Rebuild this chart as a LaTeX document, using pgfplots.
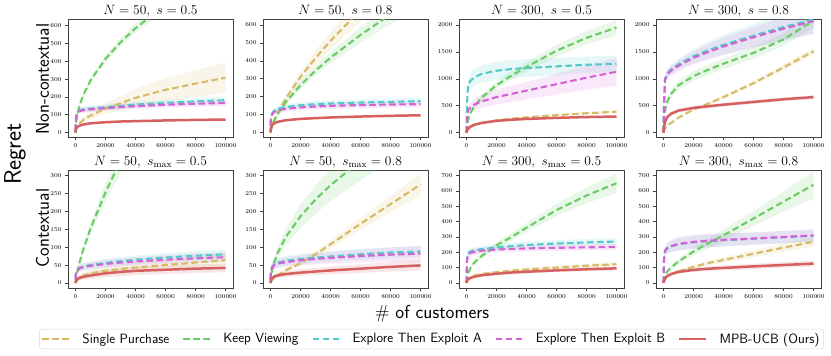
\RequirePackage{fix-cm}
\documentclass[border=0pt]{standalone}
\usepackage{pgfplots}
\pgfplotsset{compat=1.18}
\usepackage{pgfplotstable}
\usepgfplotslibrary{fillbetween}

\definecolor{cSP}{HTML}{D5BB67}
\definecolor{cKV}{HTML}{6ACC64}
\definecolor{cEA}{HTML}{52CACA}
\definecolor{cEB}{HTML}{D462D4}
\definecolor{cMP}{HTML}{D65F5F}

% columns: mean and half-width of the band for each method
\pgfplotstableread{
x      sp  spd kv  kvd ea  ead eb  ebd mp mpd
0      0   0   0   0   10  5   10  5   0  0
300    15  3   51  4   80  10  75  10  20 3
1000   30  6   93  6   110 12  105 12  30 4
2500   50  10  146 8   125 14  120 14  38 4
5000   70  14  207 10  130 15  125 15  45 5
10000  95  20  293 14  135 15  130 15  52 5
20000  135 30  414 18  142 15  137 15  58 5
30000  165 40  507 22  150 16  143 15  62 5
40000  195 50  586 25  157 16  148 16  64 5
60000  240 65  718 30  167 17  156 16  68 5
80000  275 75  829 35  175 18  162 17  71 5
100000 308 85  926 40  182 18  166 17  73 5
}\tabA
\pgfplotstableread{
x      sp  spd kv  kvd ea  ead eb  ebd mp mpd
0      0   0   0   0   40  8   40  8   0  0
300    15  2   17  2   80  10  75  10  25 3
1000   36  4   37  3   105 12  100 12  40 4
2500   69  7   67  5   122 14  115 14  52 4
5000   114 11  106 8   132 15  124 15  60 4
10000  188 18  167 13  142 16  132 16  68 4
20000  310 30  264 21  152 16  140 16  76 4
30000  415 40  345 28  158 17  145 16  80 4
40000  511 50  417 33  162 17  149 17  84 4
60000  683 65  544 44  167 18  153 17  89 4
80000  841 80  658 53  171 18  156 17  93 4
100000 988 95  762 61  175 18  158 17  96 4
}\tabB
\pgfplotstableread{
x      sp  spd kv   kvd ea   ead eb   ebd mp  mpd
0      0   0   0    0   0    0   0    0   0   0
300    30  5   120  15  500  60  300  40  40  5
1000   60  8   230  25  880  100 420  60  75  8
2500   100 10  360  35  960  130 460  80  110 10
5000   140 12  480  45  1020 150 520  100 145 12
10000  185 14  650  55  1090 160 580  120 180 14
20000  230 16  880  70  1150 170 660  140 220 15
30000  260 18  1060 80  1180 170 720  150 240 16
40000  285 20  1220 90  1200 165 780  160 255 17
60000  325 22  1520 110 1230 160 900  190 275 18
80000  360 24  1760 125 1260 155 1020 220 290 18
100000 390 26  1950 140 1277 150 1130 260 300 18
}\tabC
\pgfplotstableread{
x      sp   spd kv   kvd ea   ead eb   ebd mp  mpd
0      0    0   0    0   0    0   0    0   0   0
300    30   4   200  30  500  50  450  50  100 15
1000   80   6   400  50  1000 70  980  70  200 25
2500   130  8   580  60  1100 80  1080 80  290 30
5000   180  10  720  70  1170 90  1150 90  350 35
10000  280  14  880  80  1270 100 1240 100 410 35
20000  430  20  1050 90  1420 130 1390 120 460 35
30000  540  25  1170 95  1530 160 1500 140 490 35
40000  660  32  1280 100 1630 180 1600 160 520 35
60000  920  45  1480 110 1800 220 1770 190 570 35
80000  1210 55  1730 120 1960 250 1930 210 620 35
100000 1510 65  2080 130 2100 270 2070 230 660 35
}\tabD
\pgfplotstableread{
x      sp  spd kv  kvd ea  ead eb  ebd mp mpd
0      0   0   0   0   10  4   10  4   0  0
300    4   2   11  2   28  6   26  6   5  3
1000   8   4   28  4   36  8   34  8   10 5
2500   14  6   54  6   42  9   40  9   14 7
5000   20  8   91  9   46  10  44  10  17 8
10000  27  10  152 15  50  10  48  10  21 10
20000  34  12  253 25  56  11  53  11  27 11
30000  39  13  341 34  61  11  57  11  31 12
40000  43  14  425 42  65  12  60  12  34 12
60000  50  15  570 57  71  12  65  12  37 12
80000  57  16  720 72  76  13  69  13  40 12
100000 64  17  860 86  80  13  72  13  42 12
}\tabE
\pgfplotstableread{
x      sp  spd kv  kvd ea  ead eb  ebd mp mpd
0      0   0   0   0   10  5   10  5   0  0
300    4   1   18  4   35  8   33  8   8  3
1000   8   2   35  7   45  10  43  10  13 5
2500   15  3   59  11  52  11  50  11  18 6
5000   22  4   86  16  57  12  54  12  21 7
10000  35  5   127 23  62  13  58  13  25 8
20000  55  7   186 33  67  14  63  14  29 9
30000  80  9   233 40  71  14  67  15  32 10
40000  108 12  273 45  74  15  70  16  35 11
60000  165 17  341 55  80  15  75  18  40 12
80000  220 23  401 62  85  15  79  20  45 13
100000 275 30  454 70  88  15  82  22  49 14
}\tabF
\pgfplotstableread{
x      sp  spd kv  kvd ea  ead eb  ebd mp mpd
0      0   0   0   0   0   0   0   0   0  0
300    12  3   30  5   150 15  140 15  12 3
1000   25  5   60  8   195 18  185 18  22 5
2500   38  6   95  10  205 20  195 20  32 7
5000   48  8   130 12  212 20  202 20  40 8
10000  58  9   175 15  220 20  210 20  50 10
20000  70  10  245 20  232 22  218 20  60 11
30000  80  11  300 25  240 22  222 20  68 12
40000  88  12  360 30  247 22  225 20  73 12
60000  100 13  475 40  257 22  229 20  82 12
80000  112 14  570 50  264 22  232 20  89 12
100000 122 15  650 65  270 22  235 20  95 12
}\tabG
\pgfplotstableread{
x      sp  spd kv  kvd ea  ead eb  ebd mp  mpd
0      0   0   0   0   0   0   0   0   0   0
300    12  2   25  5   145 20  150 20  15  4
1000   25  4   50  8   205 25  210 30  30  6
2500   40  6   75  10  225 30  228 35  45  8
5000   55  8   100 12  238 35  240 40  58  10
10000  75  10  140 17  252 38  255 45  72  12
20000  105 13  205 25  265 40  268 45  85  14
30000  130 16  260 32  273 40  276 45  93  15
40000  150 18  310 38  278 40  281 42  98  16
60000  190 23  420 50  288 40  290 40  108 18
80000  230 28  530 65  298 40  300 40  117 18
100000 268 32  640 90  307 40  310 40  126 20
}\tabH

\pgfplotsset{
  dl/.style={dash pattern=on 6.5pt off 3.5pt, line width=2.1pt},
  sl/.style={solid, line width=2.5pt},
  panel/.style={
    scale only axis, width=165pt, height=117.5pt,
    anchor=south west,
    xmin=-5000, xmax=105000,
    xtick={0,20000,40000,60000,80000,100000},
    xticklabels={0,20000,40000,60000,80000,100000},
    scaled x ticks=false, scaled y ticks=false,
    yticklabel style={/pgf/number format/1000 sep={}},
    tick label style={font=\fontsize{6}{7}\selectfont},
    tick align=outside, tick pos=left, major tick length=3pt,
    axis line style={black!75, line width=0.7pt},
    every tick/.style={black!75, line width=0.5pt},
    title style={font=\fontsize{13.5}{15}\selectfont, at={(0.5,1)}, anchor=south, inner sep=0pt, yshift=-4pt},
    legend image code/.code={\draw[##1] (0pt,0pt) -- (27pt,0pt);},
  },
}

% band + mean line: table, panel id, column, colour, line style
\newcommand{\series}[5]{%
  \addplot[draw=none, forget plot, name path=#2#3lo] table[x=x, y expr=\thisrow{#3}-\thisrow{#3d}] {#1};
  \addplot[draw=none, forget plot, name path=#2#3hi] table[x=x, y expr=\thisrow{#3}+\thisrow{#3d}] {#1};
  \addplot[fill=#4, fill opacity=0.15, draw=none, forget plot] fill between[of=#2#3lo and #2#3hi];
  \addplot[#4, #5] table[x=x, y=#3] {#1};
}
\newcommand{\allseries}[2]{%
  \series{#1}{#2}{sp}{cSP}{dl}
  \series{#1}{#2}{kv}{cKV}{dl}
  \series{#1}{#2}{ea}{cEA}{dl}
  \series{#1}{#2}{eb}{cEB}{dl}
  \series{#1}{#2}{mp}{cMP}{sl}
}
\newcommand{\lf}{\sffamily\fontsize{13.5}{15}\selectfont}

\begin{document}
\begin{tikzpicture}

\begin{axis}[panel, at={(68pt,219pt)}, ymin=-25, ymax=635,
  ytick={0,100,...,600}, title={$N=50,\ s=0.5$}]
  \allseries{\tabA}{A}
\end{axis}
\begin{axis}[panel, at={(263pt,219pt)}, ymin=-25, ymax=630,
  ytick={0,100,...,600}, title={$N=50,\ s=0.8$}]
  \allseries{\tabB}{B}
\end{axis}
\begin{axis}[panel, at={(459pt,219pt)}, ymin=-80, ymax=2100,
  ytick={0,500,...,2000}, title={$N=300,\ s=0.5$}]
  \allseries{\tabC}{C}
\end{axis}
\begin{axis}[panel, at={(656pt,219pt)}, ymin=-80, ymax=2100,
  ytick={0,500,...,2000}, title={$N=300,\ s=0.8$}]
  \allseries{\tabD}{D}
\end{axis}

\begin{axis}[panel, at={(68pt,68pt)}, ymin=-14, ymax=314,
  ytick={0,50,...,300}, title={$N=50,\ s_{\max}=0.5$},
  legend columns=5,
  legend style={at={(2.203,-0.434)}, anchor=center,
    draw=black!15, rounded corners=2pt, inner sep=2pt,
    /tikz/every even column/.append style={column sep=11pt},
    /tikz/every odd column/.append style={column sep=10pt}}]
  \allseries{\tabE}{E}
  \legend{{\lf Single Purchase}, {\lf Keep Viewing}, {\lf Explore Then Exploit A}, {\lf Explore Then Exploit B}, {\lf MPB-UCB (Ours)}}
\end{axis}
\begin{axis}[panel, at={(263pt,68pt)}, ymin=-14, ymax=314,
  ytick={0,50,...,300}, title={$N=50,\ s_{\max}=0.8$}]
  \allseries{\tabF}{F}
\end{axis}
\begin{axis}[panel, at={(459pt,68pt)}, ymin=-33, ymax=733,
  ytick={0,100,...,700}, title={$N=300,\ s_{\max}=0.5$}]
  \allseries{\tabG}{G}
\end{axis}
\begin{axis}[panel, at={(656pt,68pt)}, ymin=-33, ymax=733,
  ytick={0,100,...,700}, title={$N=300,\ s_{\max}=0.8$}]
  \allseries{\tabH}{H}
\end{axis}

\node[rotate=90, font=\sffamily\fontsize{24}{27}\selectfont] at (15pt,202pt) {Regret};
\node[rotate=90, font=\sffamily\fontsize{18.5}{21}\selectfont] at (42.5pt,277pt) {Non-contextual};
\node[rotate=90, font=\sffamily\fontsize{18.5}{21}\selectfont] at (42.5pt,128pt) {Contextual};
\node[font=\sffamily\fontsize{18.8}{22}\selectfont] at (432pt,42pt) {\# of customers};
\pgfresetboundingbox
\path[use as bounding box] (0,0) rectangle (831pt,356pt);
\end{tikzpicture}
\end{document}
